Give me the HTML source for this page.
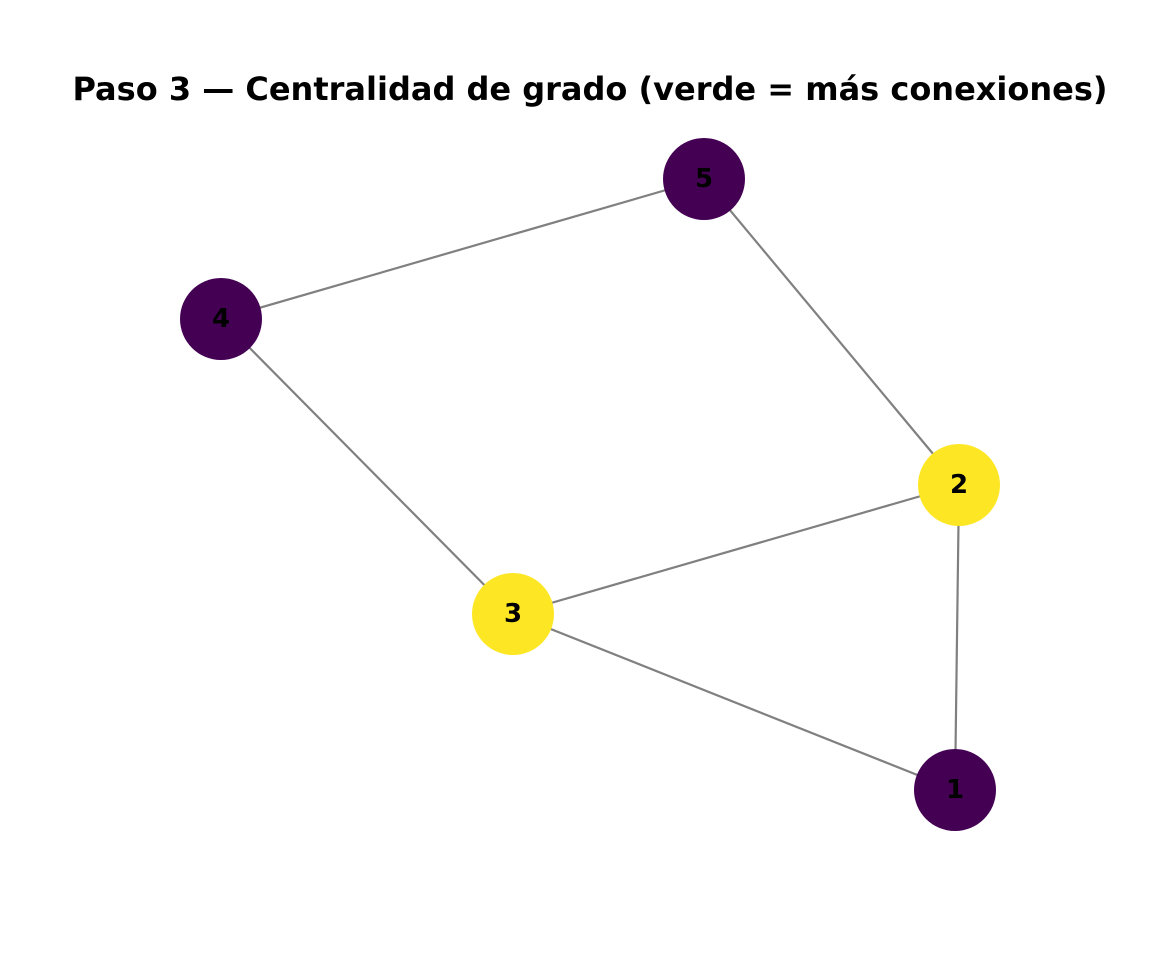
<!DOCTYPE html>
<html><head><meta charset="utf-8"><style>body{margin:0;background:#fff}</style></head>
<body>
<svg width="1152" height="960" xmlns="http://www.w3.org/2000/svg">
<rect width="1152" height="960" fill="#fff"/>
<text x="590" y="100" text-anchor="middle" font-family="DejaVu Sans, sans-serif" font-weight="bold" font-size="32">Paso 3 — Centralidad de grado (verde = más conexiones)</text>
<g stroke="#808080" stroke-width="2.2">
<line x1="221" y1="319" x2="704" y2="179"/>
<line x1="704" y1="179" x2="959" y2="485"/>
<line x1="221" y1="319" x2="513" y2="614"/>
<line x1="513" y1="614" x2="959" y2="485"/>
<line x1="959" y1="485" x2="955" y2="790"/>
<line x1="513" y1="614" x2="955" y2="790"/>
</g>
<g font-family="DejaVu Sans, sans-serif" font-weight="bold" font-size="26" text-anchor="middle">
<circle cx="704" cy="179" r="41" fill="#440154"/><text x="704" y="187">5</text>
<circle cx="221" cy="319" r="41" fill="#440154"/><text x="221" y="327">4</text>
<circle cx="959" cy="485" r="41" fill="#fde725"/><text x="959" y="493">2</text>
<circle cx="513" cy="614" r="41" fill="#fde725"/><text x="513" y="622">3</text>
<circle cx="955" cy="790" r="41" fill="#440154"/><text x="955" y="798">1</text>
</g>
</svg>
</body></html>
